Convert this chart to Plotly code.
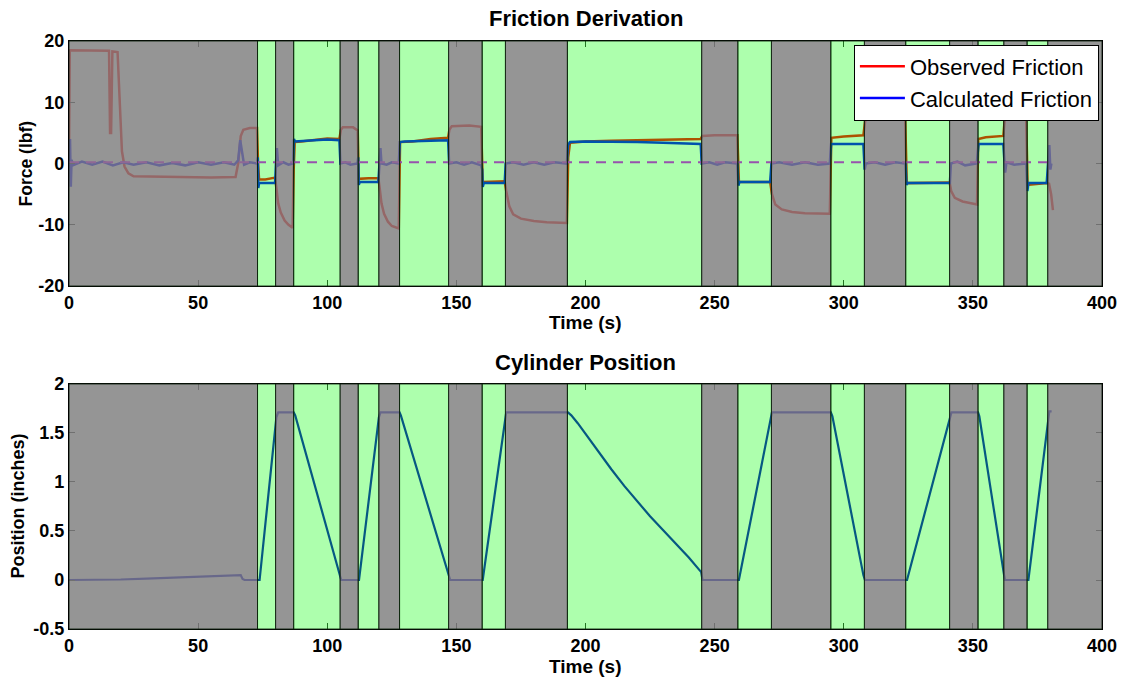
import plotly.graph_objects as go

# ---------------- data ----------------
# Band boundaries (s) and states: 'g' = gray (excluded), 'G' = green (used)
band_edges = [0, 73, 80, 87, 105, 112, 120, 128, 147, 160, 169, 193, 245, 259,
              272, 295, 308, 324, 341, 352, 362, 371, 379, 400]
band_states = ['g', 'G', 'g', 'G', 'g', 'G', 'g', 'G', 'g', 'G', 'g', 'G', 'g',
               'G', 'g', 'G', 'g', 'G', 'g', 'G', 'g', 'G', 'g']

obs_t = [0.0, 0.3, 15.5, 15.9, 16.3, 16.8, 18.8, 19.6, 20.5, 21.5, 23, 25, 35, 45, 55,
         64.5, 65.5, 66.5, 67.5, 70, 72.8, 73.2, 73.6, 76, 79.8, 80.3, 81, 82, 83.5, 85,
         86.6, 87, 87.4, 90, 95, 100, 104.7, 105.3, 106, 110, 111.8, 112.2, 116, 119.8,
         120.3, 121, 122, 123.5, 125, 127.7, 128.2, 133, 140, 146.8, 147.3, 148.2, 155,
         159.6, 160.2, 168.7, 169.3, 170.5, 172, 175, 180, 185, 192.8, 193.3, 194, 200,
         210, 220, 230, 244.6, 245.2, 250, 258.8, 259.4, 271.5, 272.2, 273.5, 276, 280,
         285, 294.6, 295.2, 300, 307.6, 308.3, 310, 323.8, 324.4, 341, 341.6, 343, 346,
         351.6, 352.1, 355, 361.8, 362.4, 363.5, 370.6, 371.2, 378.6, 379.5, 380.3, 381]
obs_v = [0, 18.5, 18.4, 5, 5, 18.3, 18.2, 10, 2, -0.5, -1.6, -2.1, -2.2, -2.3, -2.3,
         -2.2, 0, 4.5, 5.5, 5.8, 5.8, 0, -2.6, -2.6, -2.3, -4, -6.5, -8, -9.3, -10,
         -10.5, -1, 3.5, 3.6, 3.8, 4.1, 4.0, 5.5, 5.9, 5.9, 5.4, -2.5, -2.4, -2.4,
         -4, -6.5, -8.2, -9.5, -10.2, -10.6, 3.5, 3.6, 4.0, 4.2, 5.5, 6.1, 6.2,
         6.0, -3.0, -2.9, -4.5, -7, -8.3, -9.0, -9.4, -9.6, -9.7, 1, 3.4, 3.6,
         3.7, 3.8, 3.9, 4.0, 4.5, 4.6, 4.6, -3.0, -3.0, -5, -6.7, -7.5, -7.9,
         -8.1, -8.2, 4.2, 4.4, 4.6, 7.0, 7.4, 7.4, -3.2, -3.1, -4.5, -5.6, -6.2,
         -6.7, 4.0, 4.3, 4.5, 7.5, 8.1, 8.1, -3.5, -3.2, -3.3, -5, -7.6]

calc_t = [0, 0.4, 0.7, 1.0, 1.5, 5, 9, 13, 17, 21, 25, 30, 35, 40, 45, 50, 55, 60, 64,
          65.5, 66.3, 67, 67.8, 70, 72.8, 73.1, 73.3, 73.6, 79.8, 80.2, 80.5, 81, 83, 85,
          86.8, 87.1, 87.5, 95, 100, 104.7, 105.1, 107, 109, 111.7, 112, 112.2, 112.6,
          119.8, 120.2, 120.6, 121, 123, 125, 127.7, 128.1, 130, 140, 146.8, 147.2, 150,
          153, 156, 159.6, 160, 160.2, 160.6, 168.7, 169.1, 172, 176, 180, 184, 188,
          192.8, 193.2, 194, 200, 210, 220, 230, 240, 244.6, 245, 248, 251, 254, 258.8,
          259.2, 259.6, 271.5, 272, 275, 280, 285, 290, 294.6, 295.1, 307.6, 308.1,
          308.5, 312, 316, 320, 323.9, 324.3, 324.7, 341.1, 341.5, 344, 347, 351.5,
          351.9, 352.2, 361.8, 362.2, 362.5, 363, 366, 370.7, 371.1, 371.5, 378.6,
          379.1, 379.6, 380, 380.4]
calc_v = [0, 4.0, -3.8, 0.6, -0.3, 0.3, -0.2, 0.3, -0.3, 0.2, -0.2, 0.2, -0.3, 0.1,
          -0.3, 0.2, -0.2, 0.2, -0.2, 0.5, 3.8, 1.5, -0.2, 0.2, 0, 1, -4, -3.2, -3.2,
          0.5, 2.5, -0.3, 0.2, -0.2, 0, 4, 3.6, 3.8, 3.9, 3.8, 0, 0.2, -0.2, 0, 1,
          -3.5, -3.0, -3.0, 0, 2.5, 0, -0.2, 0.2, 0, 3.5, 3.6, 3.7, 3.8, 0, 0.2,
          -0.2, 0.2, -0.3, -1, -3.8, -3.2, -3.2, 0, 0.2, -0.2, 0.2, -0.2, 0.2,
          0, 3.0, 3.5, 3.6, 3.6, 3.5, 3.4, 3.2, 3.2, 0, 0.2, -0.2, 0.2, 0,
          -3.6, -3.0, -3.0, 0, 0.2, -0.2, 0.2, -0.2, 0, 3.2, 3.2, -1,
          0, 0.2, -0.2, 0.2, 0, -3.5, -3.2, -3.2, 0, 0.3, -0.3, 0,
          2, 3.2, 3.2, 0, -1.5, 0.2, -0.2, 0, -4.5, -3.2, -3.2,
          0, 3, -1, 0]

ref_t = [0, 380]
ref_v = [0.2, 0.2]

pos_t = [0, 10, 20, 30, 40, 50, 60, 65.5, 66.5, 67.2, 68, 73.8, 80.3, 81, 87, 87.6,
         104.8, 105.4, 112.3, 120, 120.6, 128, 128.5, 147.1, 147.6, 160.2, 168.8,
         169.3, 193.2, 194.5, 197, 200, 205, 210, 215, 220, 225, 230, 235, 240, 244.8,
         245.3, 259.4, 271.7, 272.2, 295, 295.6, 307.6, 308.2, 324.5, 341.2, 341.7,
         352, 352.5, 361.9, 362.4, 371.5, 379, 379.6, 380.5]
pos_v = [0.0, 0.0, 0.005, 0.015, 0.025, 0.035, 0.045, 0.05, 0.05, 0.01, 0, 0, 1.66,
         1.71, 1.71, 1.68, 0.08, 0, 0, 1.66, 1.71, 1.71, 1.68, 0.05, 0, 0, 1.66,
         1.71, 1.71, 1.68, 1.60, 1.49, 1.31, 1.13, 0.96, 0.80, 0.65, 0.51, 0.37, 0.23,
         0.08, 0, 0, 1.66, 1.71, 1.71, 1.67, 0.05, 0, 0, 1.66, 1.71,
         1.71, 1.67, 0.08, 0, 0, 1.6, 1.72, 1.72]

x_ticks = [0, 50, 100, 150, 200, 250, 300, 350, 400]
force_ticks = [-20, -10, 0, 10, 20]
force_tick_text = ['-20', '-10', '0', '10', '20']
pos_ticks = [-0.5, 0, 0.5, 1, 1.5, 2]
pos_tick_text = ['-0.5', '0', '0.5', '1', '1.5', '2']

# ---------------- figure ----------------
FONT = "Liberation Sans, Arial, sans-serif"
fig = go.Figure()

fig.add_trace(go.Scatter(x=obs_t, y=obs_v, mode='lines', name='Observed Friction',
                         line=dict(color='#ff0000', width=2.5), xaxis='x', yaxis='y'))
fig.add_trace(go.Scatter(x=calc_t, y=calc_v, mode='lines', name='Calculated Friction',
                         line=dict(color='#0000ff', width=2.5), xaxis='x', yaxis='y'))
fig.add_trace(go.Scatter(x=ref_t, y=ref_v, mode='lines', showlegend=False,
                         line=dict(color='#e000ff', width=2, dash='10px,7px'),
                         xaxis='x', yaxis='y'))
fig.add_trace(go.Scatter(x=pos_t, y=pos_v, mode='lines', showlegend=False,
                         line=dict(color='#0a0ac0', width=2.2), xaxis='x2', yaxis='y2'))

fills = {'g': 'rgba(126,126,126,0.82)', 'G': 'rgba(0,255,0,0.32)'}
shapes = []
for xr, yr in (('x', 'y domain'), ('x2', 'y2 domain')):
    for i, st in enumerate(band_states):
        shapes.append(dict(type='rect', xref=xr, yref=yr,
                           x0=band_edges[i], x1=band_edges[i + 1], y0=0, y1=1,
                           fillcolor=fills[st], layer='above',
                           line=dict(color='rgba(10,30,10,0.85)', width=1)))

axis_common = dict(range=[0, 400], tickvals=x_ticks, ticks='inside', ticklen=6,
                   tickcolor='#333', showline=True, linecolor='black', linewidth=1.2,
                   mirror='ticks', showgrid=False, zeroline=False,
                   tickfont=dict(family=FONT, size=18, color='black', weight='bold'))

yaxis_common = dict(ticks='inside', ticklen=6, tickcolor='#333', showline=True,
                    linecolor='black', linewidth=1.2, mirror='ticks', showgrid=False,
                    zeroline=False,
                    tickfont=dict(family=FONT, size=18, color='black', weight='bold'))

fig.update_layout(
    width=1128, height=679,
    margin=dict(l=69, r=26, t=41, b=50),
    paper_bgcolor='white', plot_bgcolor='white',
    xaxis=dict(domain=[0, 1], anchor='y', **axis_common),
    yaxis=dict(domain=[0.5833, 1], anchor='x', range=[-20, 20], tickvals=force_ticks,
               ticktext=force_tick_text, **yaxis_common),
    xaxis2=dict(domain=[0, 1], anchor='y2', **axis_common),
    yaxis2=dict(domain=[0, 0.4167], anchor='x2', range=[-0.5, 2], tickvals=pos_ticks,
                ticktext=pos_tick_text, **yaxis_common),
    shapes=shapes,
    showlegend=True,
    legend=dict(x=0.997, y=0.994, xanchor='right', yanchor='top',
                bgcolor='white', bordercolor='black', borderwidth=1,
                font=dict(family=FONT, size=22, color='black'),
                itemwidth=45, tracegroupgap=0),
    annotations=[
        dict(text='Friction Derivation', x=0.5, y=1.039, xref='paper', yref='paper',
             showarrow=False, xanchor='center', yanchor='middle',
             font=dict(family=FONT, size=22, color='black', weight='bold')),
        dict(text='Cylinder Position', x=0.5, y=0.454, xref='paper', yref='paper',
             showarrow=False, xanchor='center', yanchor='middle',
             font=dict(family=FONT, size=22, color='black', weight='bold')),
        dict(text='Time (s)', x=0.5, y=0.522, xref='paper', yref='paper',
             showarrow=False, xanchor='center', yanchor='middle',
             font=dict(family=FONT, size=19, color='black', weight='bold')),
        dict(text='Time (s)', x=0.5, y=-0.063, xref='paper', yref='paper',
             showarrow=False, xanchor='center', yanchor='middle',
             font=dict(family=FONT, size=19, color='black', weight='bold')),
        dict(text='Force (lbf)', x=-0.0407, y=0.7917, xref='paper', yref='paper',
             showarrow=False, xanchor='center', yanchor='middle', textangle=-90,
             font=dict(family=FONT, size=17.5, color='black', weight='bold')),
        dict(text='Position (inches)', x=-0.0503, y=0.2083, xref='paper', yref='paper',
             showarrow=False, xanchor='center', yanchor='middle', textangle=-90,
             font=dict(family=FONT, size=18, color='black', weight='bold')),
    ],
)

fig.write_html("out.html")
